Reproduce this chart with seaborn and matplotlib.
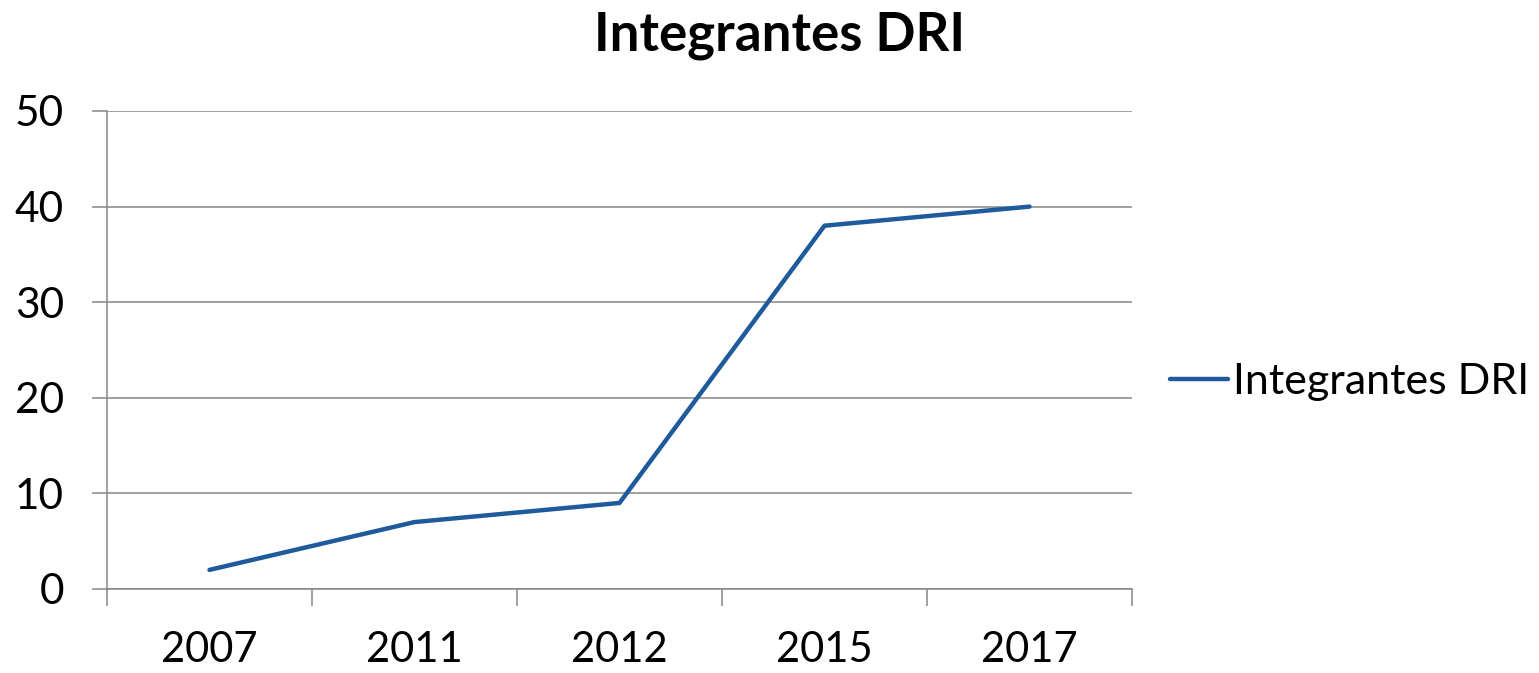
import matplotlib
matplotlib.use("Agg")
import matplotlib.pyplot as plt
import numpy as np
import pandas as pd
import seaborn as sns

years = ["2007", "2011", "2012", "2015", "2017"]
members = [2, 7, 9, 38, 40]
series_name = "Integrantes DRI"

sns.set_style("white")
plt.rcParams["font.family"] = ["Lato", "DejaVu Sans"]
plt.rcParams["text.color"] = "black"
plt.rcParams["xtick.color"] = "black"
plt.rcParams["ytick.color"] = "black"

df = pd.DataFrame({"pos": np.arange(len(years)), "value": members})

fig = plt.figure(figsize=(15.39, 6.73), dpi=100)
ax = fig.add_axes([107 / 1539, 1 - 589 / 673, (1132 - 107) / 1539, (589 - 111) / 673])

grid_c = "#868686"
line_c = "#1f5a9c"

sns.lineplot(data=df, x="pos", y="value", ax=ax, color=line_c, linewidth=3.2,
             label=series_name, legend=False)

ax.set_xlim(-0.5, len(years) - 0.5)
ax.set_ylim(0, 50)
ax.set_yticks([0, 10, 20, 30, 40, 50])
ax.yaxis.grid(True, color=grid_c, linewidth=1.1)
ax.set_axisbelow(True)

# category boundaries carry the tick marks, labels sit in the middle
ax.set_xticks(np.arange(-0.5, len(years)))
ax.set_xticklabels([])
ax.set_xticks(np.arange(len(years)), minor=True)
ax.set_xticklabels(years, minor=True)
ax.tick_params(axis="x", which="major", length=12, width=1.1, color=grid_c, direction="out")
ax.tick_params(axis="x", which="minor", length=0, pad=30, labelsize=30, labelcolor="black")
ax.tick_params(axis="y", length=11, width=1.1, color=grid_c, direction="out",
               pad=20, labelsize=30.5, labelcolor="black")
ax.xaxis.set_ticks_position("bottom")
ax.yaxis.set_ticks_position("left")

for s in ["top", "right"]:
    ax.spines[s].set_visible(False)
for s in ["left", "bottom"]:
    ax.spines[s].set_color(grid_c)
    ax.spines[s].set_linewidth(1.1)

ax.set_xlabel("")
ax.set_ylabel("")

fig.text(780 / 1539, 1 - 11 / 673, "Integrantes DRI", ha="center", va="top",
         fontsize=38, fontweight="bold", color="black")

handles, labels = ax.get_legend_handles_labels()
leg = fig.legend(handles, labels, loc="center left", bbox_to_anchor=(1170 / 1539, 1 - 382 / 673),
                 frameon=False, fontsize=31, handlelength=1.35, handletextpad=0.12,
                 borderpad=0, borderaxespad=0)
for t in leg.get_texts():
    t.set_color("black")

fig.savefig("out.png", dpi=100, facecolor="white")
